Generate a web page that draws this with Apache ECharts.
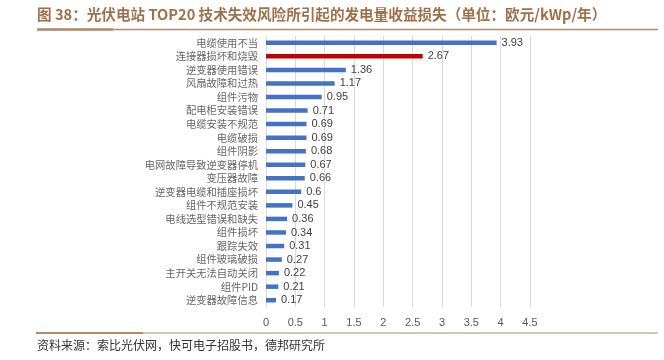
<!DOCTYPE html>
<html>
<head>
<meta charset="utf-8">
<script src="https://cdn.jsdelivr.net/npm/echarts@6/dist/echarts.min.js"></script>
<style>html,body{margin:0;padding:0;background:#fff;}#c{width:664px;height:360px;}</style>
</head>
<body>
<div id="c"></div>
<script>
const categories = ["电缆使用不当","连接器损坏和烧毁","逆变器使用错误","风扇故障和过热","组件污物","配电柜安装错误","电缆安装不规范","电缆破损","组件阴影","电网故障导致逆变器停机","变压器故障","逆变器电缆和插座损坏","组件不规范安装","电线选型错误和缺失","组件损坏","跟踪失效","组件玻璃破损","主开关无法自动关闭","组件PID","逆变器故障信息"];
const values = [3.93,2.67,1.36,1.17,0.95,0.71,0.69,0.69,0.68,0.67,0.66,0.6,0.45,0.36,0.34,0.31,0.27,0.22,0.21,0.17];
const highlightIndex = 1;
const titleText = "图 38：光伏电站 TOP20 技术失效风险所引起的发电量收益损失（单位：欧元/kWp/年）";
const sourceText = "资料来源：索比光伏网，快可电子招股书，德邦研究所";

const chart = echarts.init(document.getElementById('c'), null, {renderer:'canvas'});
const lineColor = '#b48a68';
chart.setOption({
  animation: false,
  backgroundColor: '#fff',
  grid: {left: 266, right: 134, top: 36, bottom: 53, containLabel: false},
  xAxis: {
    type: 'value', min: 0, max: 4.5, interval: 0.5,
    axisLine: {show: false}, axisTick: {show: false},
    splitLine: {show: true, lineStyle: {color: '#d9d9d9', width: 1}},
    axisLabel: {color: '#595959', fontSize: 11, fontFamily: 'Liberation Sans, Arial, sans-serif', margin: 10}
  },
  yAxis: {
    type: 'category', data: categories, inverse: true,
    axisLine: {show: false}, axisTick: {show: false},
    axisLabel: {color: '#666666', fontSize: 10.3, fontFamily: 'Noto Sans CJK SC', margin: 8}
  },
  series: [{
    type: 'bar', data: values.map((v, i) => ({value: v, itemStyle: {color: i === highlightIndex ? '#c00000' : '#4472c4'}})),
    barWidth: 4.5,
    label: {show: true, position: 'right', distance: 5, color: '#404040', fontSize: 11, fontFamily: 'Liberation Sans, Arial, sans-serif', formatter: p => String(p.value)}
  }],
  graphic: [
    {type: 'text', left: 37, top: 7, style: {text: titleText, fill: '#a0704a', font: 'bold 14.6px "Noto Sans CJK SC"'}},
    {type: 'line', shape: {x1: 37, y1: 29.5, x2: 658, y2: 29.5}, style: {stroke: lineColor, lineWidth: 1.5}},
    {type: 'line', shape: {x1: 37, y1: 29.5, x2: 113, y2: 29.5}, style: {stroke: lineColor, lineWidth: 2.5}},
    {type: 'line', shape: {x1: 36, y1: 333, x2: 658, y2: 333}, style: {stroke: lineColor, lineWidth: 1}},
    {type: 'line', shape: {x1: 36, y1: 333, x2: 143, y2: 333}, style: {stroke: lineColor, lineWidth: 2}},
    {type: 'text', left: 37, top: 339, style: {text: sourceText, fill: '#333333', font: '12px "Noto Sans CJK SC"'}}
  ]
});
</script>
</body>
</html>
